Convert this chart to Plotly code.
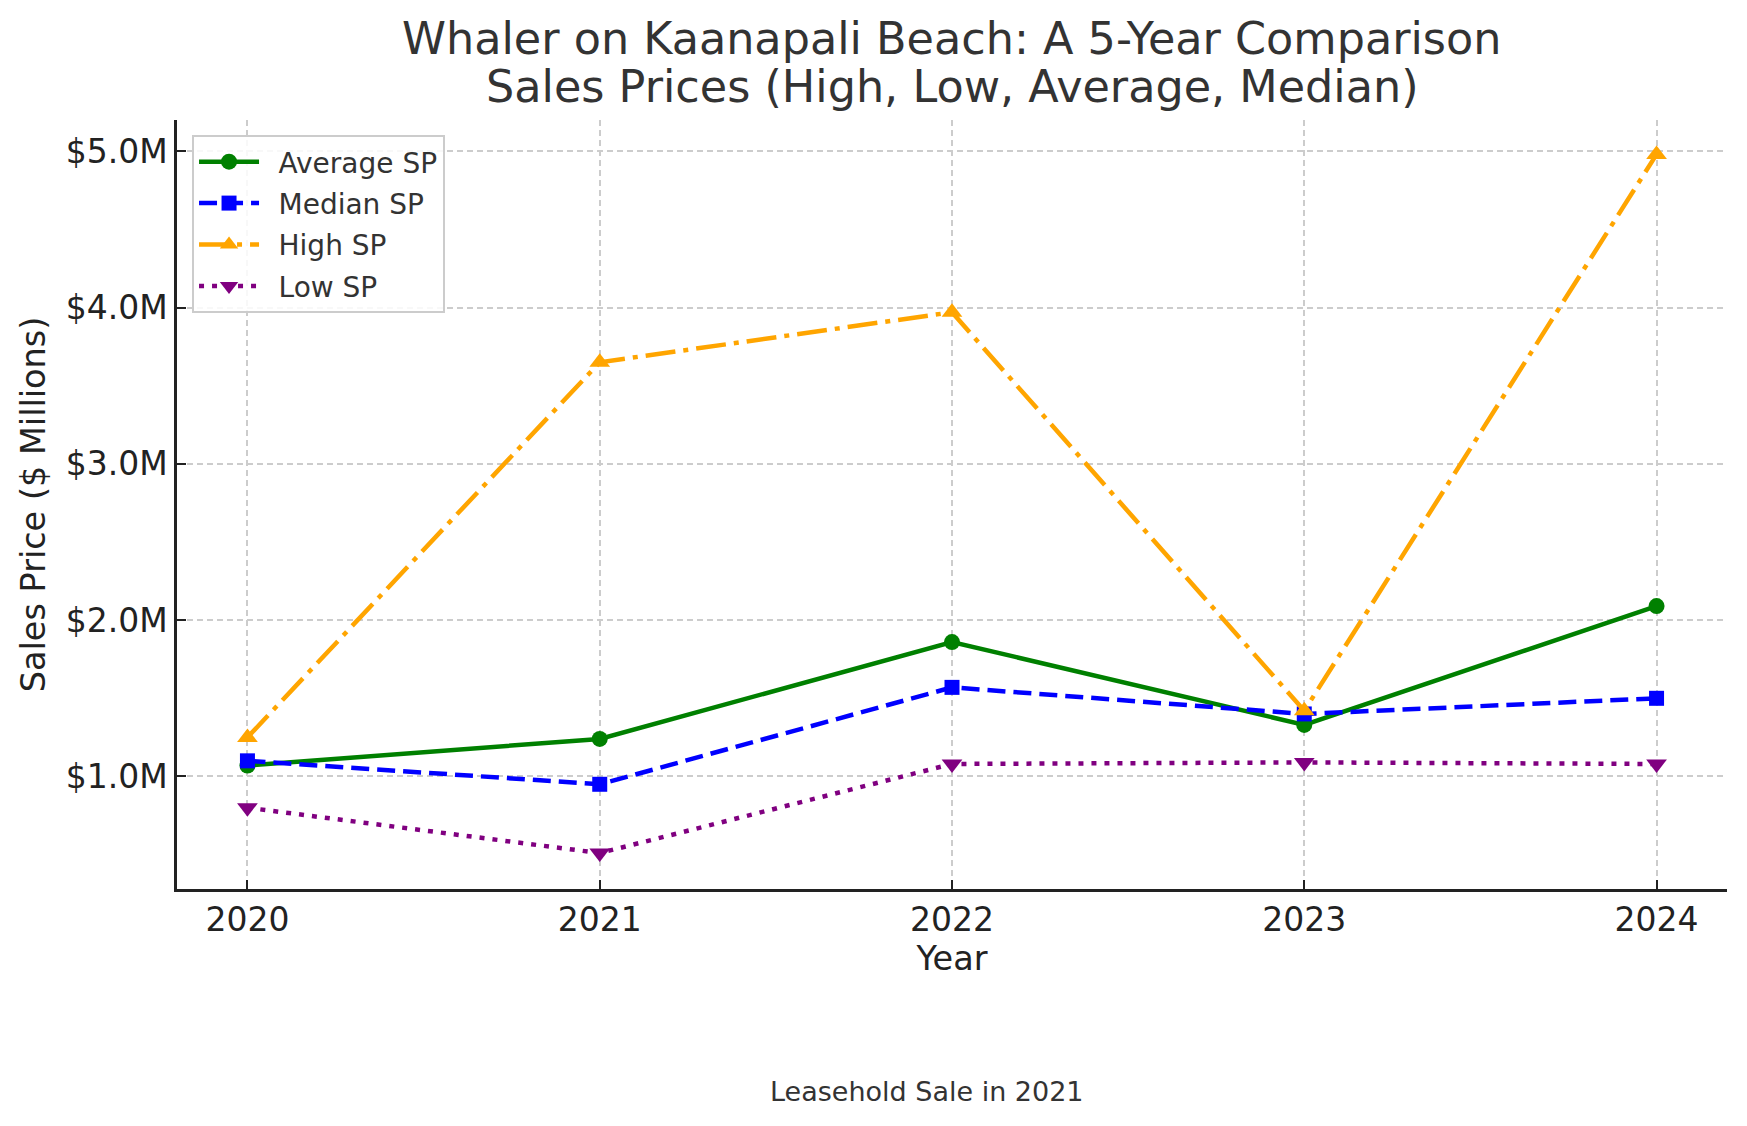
import plotly.graph_objects as go

years = [2020, 2021, 2022, 2023, 2024]
average_sp = [1.07, 1.24, 1.86, 1.33, 2.09]
median_sp = [1.10, 0.95, 1.57, 1.40, 1.50]
high_sp = [1.25, 3.65, 3.97, 1.42, 4.98]
low_sp = [0.80, 0.51, 1.08, 1.09, 1.08]
y_ticks = [1, 2, 3, 4, 5]
y_tick_labels = [f"${v:.1f}M" for v in y_ticks]

FONT = "DejaVu Sans"
TXT = "#333333"
AX = "#222222"
PAD = "\u00a0\u2009"

series = [
    ("Average SP", average_sp, "green", "solid", "circle", 16),
    ("Median SP", median_sp, "blue", "18px,8px", "square", 15),
    ("High SP", high_sp, "orange", "30px,8px,5px,8px", "triangle-up", 18),
    ("Low SP", low_sp, "purple", "5px,8px", "triangle-down", 18),
]

fig = go.Figure()
for i, (name, vals, color, dash, sym, size) in enumerate(series):
    fig.add_trace(go.Scatter(
        x=years, y=vals, name=PAD + name, mode="lines+markers",
        line=dict(color=color, width=4.5, dash=dash),
        marker=dict(color=color, symbol=sym, size=size, line=dict(width=0)),
        legendgroup=f"g{i}",
    ))

grid = dict(showgrid=True, gridcolor="#cccccc", gridwidth=1.5, griddash="6px,4px")

# page is offset by the body's 8px margin
W, H = 1739, 1118
fig.update_layout(
    width=W, height=H, autosize=False,
    margin=dict(l=169, r=W - 1719, t=112, b=H - 881),
    paper_bgcolor="white", plot_bgcolor="white",
    font=dict(family=FONT, color=TXT),
    showlegend=True,
    legend=dict(
        x=0.0097, y=0.9805, xanchor="left", yanchor="top",
        bgcolor="rgba(255,255,255,0.85)", bordercolor="#cccccc", borderwidth=2,
        font=dict(size=28, color=TXT, family=FONT),
        itemwidth=60, tracegroupgap=2,
    ),
    xaxis=dict(
        range=[2019.8, 2024.2], tickvals=years, ticktext=[str(y) for y in years],
        ticks="inside", ticklen=9, tickwidth=2, tickcolor=AX,
        showline=True, linecolor=AX, linewidth=2.5, mirror=False,
        tickfont=dict(size=33, color=AX, family=FONT),
        title=dict(text="Year", font=dict(size=33.5, color=AX, family=FONT), standoff=4),
        zeroline=False, **grid,
    ),
    yaxis=dict(
        range=[0.28, 5.2], tickvals=y_ticks, ticktext=y_tick_labels,
        ticks="inside", ticklen=9, tickwidth=2, tickcolor=AX,
        showline=True, linecolor=AX, linewidth=2.5, mirror=False,
        tickfont=dict(size=33, color=AX, family=FONT),
        title=dict(text="Sales Price ($ Millions)", font=dict(size=33.5, color=AX, family=FONT), standoff=10),
        zeroline=False, **grid,
    ),
    annotations=[
        dict(text="Whaler on Kaanapali Beach: A 5-Year Comparison",
             xref="paper", yref="paper", x=0.5, y=1 + (120 - 39) / 769,
             xanchor="center", yanchor="middle", showarrow=False,
             font=dict(size=44.5, color=TXT, family=FONT)),
        dict(text="Sales Prices (High, Low, Average, Median)",
             xref="paper", yref="paper", x=0.5, y=1 + (120 - 87) / 769,
             xanchor="center", yanchor="middle", showarrow=False,
             font=dict(size=44.5, color=TXT, family=FONT)),
        dict(text="Leasehold Sale in 2021", xref="paper", yref="paper",
             x=(927 - 177) / 1550, y=(889 - 1091) / 769,
             xanchor="center", yanchor="middle", showarrow=False,
             font=dict(size=27, color=TXT, family=FONT)),
    ],
)

fig.write_html("out.html")
